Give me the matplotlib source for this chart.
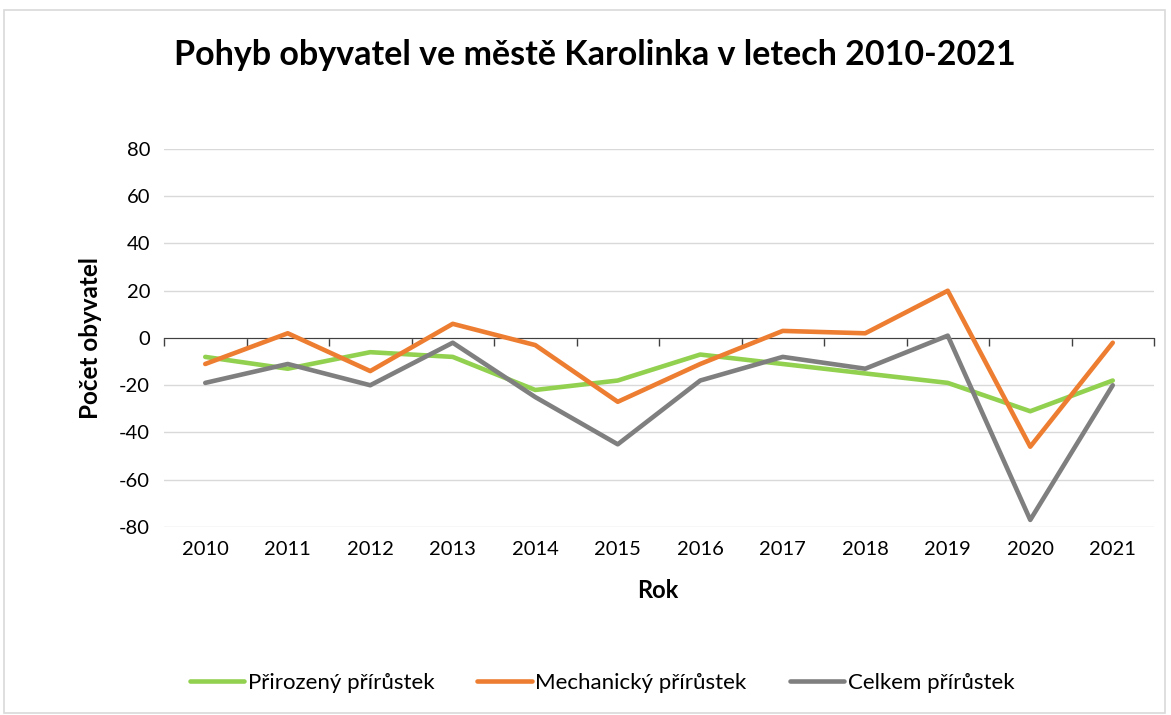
import matplotlib.pyplot as plt
from matplotlib.patches import Rectangle
from matplotlib.ticker import FixedLocator

years = ["2010", "2011", "2012", "2013", "2014", "2015",
         "2016", "2017", "2018", "2019", "2020", "2021"]
prirozeny = [-8, -13, -6, -8, -22, -18, -7, -11, -15, -19, -31, -18]
mechanicky = [-11, 2, -14, 6, -3, -27, -11, 3, 2, 20, -46, -2]
celkem = [-19, -11, -20, -2, -25, -45, -18, -8, -13, 1, -77, -20]

series_names = ["Přirozený přírůstek", "Mechanický přírůstek", "Celkem přírůstek"]
colors = ["#92D050", "#ED7D31", "#7F7F7F"]

plt.rcParams["font.family"] = ["Lato", "DejaVu Sans"]
plt.rcParams["axes.unicode_minus"] = False

fig = plt.figure(figsize=(11.71, 7.15), dpi=100)
ax = fig.add_axes([164 / 1171, 1 - 527 / 715, 990 / 1171, 378 / 715])

x = list(range(len(years)))
for vals, name, col in zip([prirozeny, mechanicky, celkem], series_names, colors):
    ax.plot(x, vals, color=col, lw=3.3, label=name, solid_capstyle="round")

ax.set_xlim(-0.5, len(years) - 0.5)
ax.set_ylim(-80, 80)
ax.set_yticks(range(-80, 81, 20))
ax.grid(axis="y", color="#D9D9D9", lw=1)
ax.set_axisbelow(True)

for side in ["top", "right", "left"]:
    ax.spines[side].set_visible(False)
ax.spines["bottom"].set_position(("data", 0))
ax.spines["bottom"].set_color("#404040")
ax.spines["bottom"].set_zorder(1)

ax.set_xticks(x)
ax.set_xticklabels(years)
ax.xaxis.set_minor_locator(FixedLocator([i - 0.5 for i in range(len(years) + 1)]))
ax.tick_params(axis="x", which="major", length=0, pad=146, labelsize=14.5, colors="black")
ax.tick_params(axis="x", which="minor", length=6, width=1, color="#404040", direction="out")
ax.tick_params(axis="y", length=0, pad=10, labelsize=14.5, colors="black")

fig.text(595 / 1171, 1 - 55 / 715, "Pohyb obyvatel ve městě Karolinka v letech 2010-2021",
         ha="center", va="center", fontsize=24.5, fontweight="bold")
fig.text(658 / 1171, 1 - 590 / 715, "Rok", ha="center", va="center",
         fontsize=17, fontweight="bold")
fig.text(90 / 1171, 1 - 338 / 715, "Počet obyvatel", ha="center", va="center",
         rotation=90, fontsize=17.5, fontweight="bold")

fig.legend(loc="center", bbox_to_anchor=(602 / 1171, 1 - 683 / 715), ncol=3,
           frameon=False, fontsize=16, handlelength=2.45, handletextpad=0.15,
           columnspacing=1.95)

fig.patches.append(Rectangle((4 / 1171, 2 / 715), 1161 / 1171, 703 / 715,
                             transform=fig.transFigure, fill=False,
                             edgecolor="#D9D9D9", lw=1.2))

fig.savefig("out.png", dpi=100)
